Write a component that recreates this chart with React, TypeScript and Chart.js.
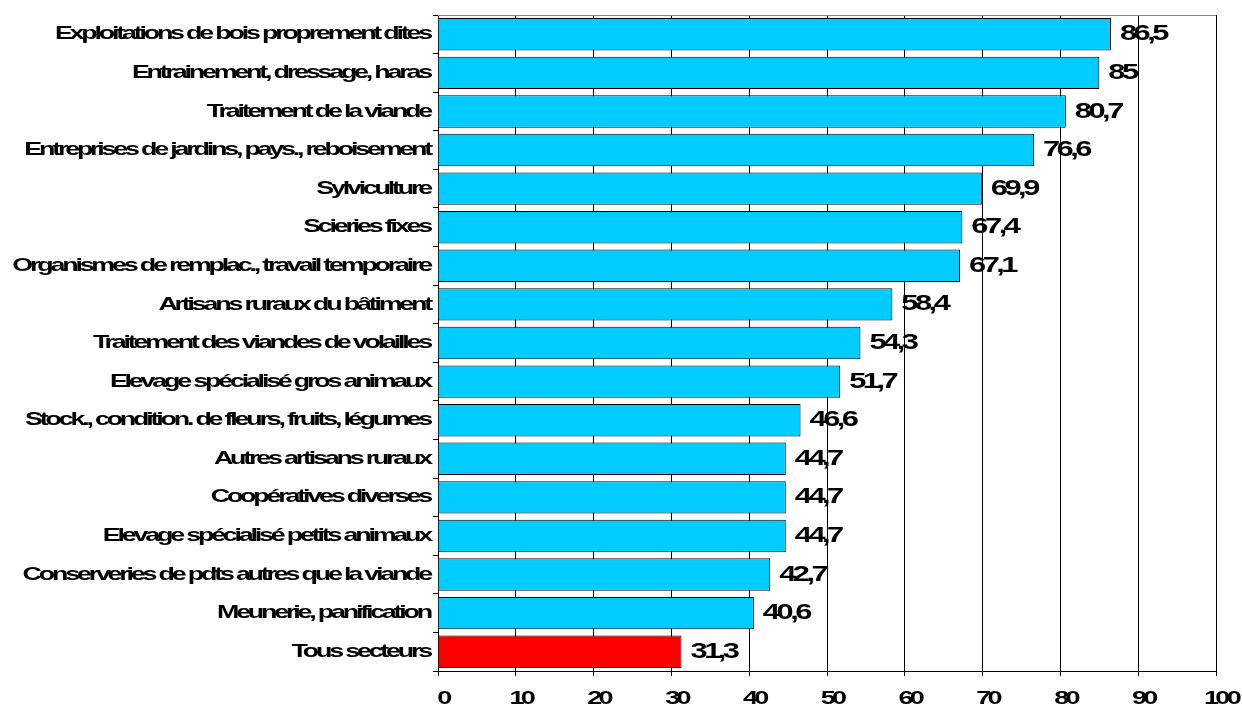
import React, { useEffect, useRef } from 'react';
import { Chart, registerables } from 'chart.js';

Chart.register(...registerables);

const categories: string[] = [
  'Exploitations de bois proprement dites',
  'Entrainement, dressage, haras',
  'Traitement de la viande',
  'Entreprises de jardins, pays., reboisement',
  'Sylviculture',
  'Scieries fixes',
  'Organismes de remplac., travail temporaire',
  'Artisans ruraux du bâtiment',
  'Traitement des viandes de volailles',
  'Elevage spécialisé gros animaux',
  'Stock., condition. de fleurs, fruits, légumes',
  'Autres artisans ruraux',
  'Coopératives diverses',
  'Elevage spécialisé petits animaux',
  'Conserveries de pdts autres que la viande',
  'Meunerie, panification',
  'Tous secteurs',
];

const values: number[] = [
  86.5, 85, 80.7, 76.6, 69.9, 67.4, 67.1, 58.4, 54.3, 51.7, 46.6, 44.7, 44.7, 44.7, 42.7, 40.6, 31.3,
];

const highlightCategory = 'Tous secteurs';
const xMin = 0;
const xMax = 100;
const xStep = 10;

const FONT = '"Liberation Sans", Arial, sans-serif';

function drawStretched(
  ctx: CanvasRenderingContext2D,
  text: string,
  x: number,
  y: number,
  size: number,
  align: CanvasTextAlign,
  baseline: CanvasTextBaseline,
  sx: number,
  spacing: number
) {
  ctx.save();
  ctx.translate(x, y);
  ctx.scale(sx, 1);
  ctx.font = `bold ${size}px ${FONT}`;
  (ctx as any).letterSpacing = `${spacing}px`;
  ctx.textAlign = align;
  ctx.textBaseline = baseline;
  ctx.fillStyle = '#000000';
  ctx.fillText(text, 0, 0);
  ctx.restore();
}

const textPlugin = {
  id: 'stretchedText',
  afterDraw(chart: any) {
    const { ctx, chartArea, scales } = chart;
    const xs = scales.x;
    const ys = scales.y;
    ctx.save();
    // top frame line
    ctx.strokeStyle = '#808080';
    ctx.lineWidth = 1;
    ctx.beginPath();
    ctx.moveTo(chartArea.left, Math.round(chartArea.top) + 0.5);
    ctx.lineTo(chartArea.right, Math.round(chartArea.top) + 0.5);
    ctx.stroke();

    // category labels
    categories.forEach((label, i) => {
      const y = ys.getPixelForValue(i);
      drawStretched(ctx, label, chartArea.left - 8, y, 18.5, 'right', 'middle', 1.45, -2.2);
    });

    // value labels
    values.forEach((v, i) => {
      const y = ys.getPixelForValue(i);
      const x = xs.getPixelForValue(v) + 9;
      drawStretched(ctx, String(v).replace('.', ','), x, y, 22, 'left', 'middle', 1.4, -2.5);
    });

    // x tick labels
    xs.ticks.forEach((t: any) => {
      const x = xs.getPixelForValue(t.value) + 5;
      drawStretched(ctx, String(t.value), x, chartArea.bottom + 33, 18, 'center', 'alphabetic', 1.5, -2.5);
    });
    ctx.restore();
  },
};

export default function App() {
  const canvasRef = useRef<HTMLCanvasElement | null>(null);

  useEffect(() => {
    if (!canvasRef.current) return;
    const chart = new Chart(canvasRef.current, {
      type: 'bar',
      data: {
        labels: categories,
        datasets: [
          {
            data: values,
            backgroundColor: categories.map((c) => (c === highlightCategory ? '#FF0000' : '#00CCFF')),
            borderColor: '#000000',
            borderWidth: 1,
            barPercentage: 0.84,
            categoryPercentage: 1,
          },
        ],
      },
      options: {
        indexAxis: 'y',
        responsive: true,
        maintainAspectRatio: false,
        animation: false,
        layout: { padding: { top: 15, right: 26, left: 0, bottom: 0 } },
        plugins: {
          legend: { display: false },
          tooltip: { enabled: false },
        },
        scales: {
          x: {
            min: xMin,
            max: xMax,
            ticks: { stepSize: xStep, display: false },
            grid: {
              color: '#000000',
              lineWidth: 1,
              drawTicks: true,
              tickLength: 5,
              tickColor: '#000000',
            },
            border: { display: true, color: '#000000', width: 1 },
            afterFit: (s: any) => {
              s.height = 35;
            },
          },
          y: {
            ticks: { display: false },
            grid: {
              drawOnChartArea: false,
              drawTicks: true,
              tickLength: 5,
              color: '#000000',
              tickColor: '#000000',
              offset: true,
            },
            border: { display: true, color: '#000000', width: 1 },
            afterFit: (s: any) => {
              s.width = 438;
            },
          },
        },
      } as any,
      plugins: [textPlugin],
    });
    return () => {
      chart.destroy();
    };
  }, []);

  return (
    <div style={{ position: 'fixed', left: 0, top: 0, width: 1242, height: 706 }}>
      <canvas ref={canvasRef} />
    </div>
  );
}
